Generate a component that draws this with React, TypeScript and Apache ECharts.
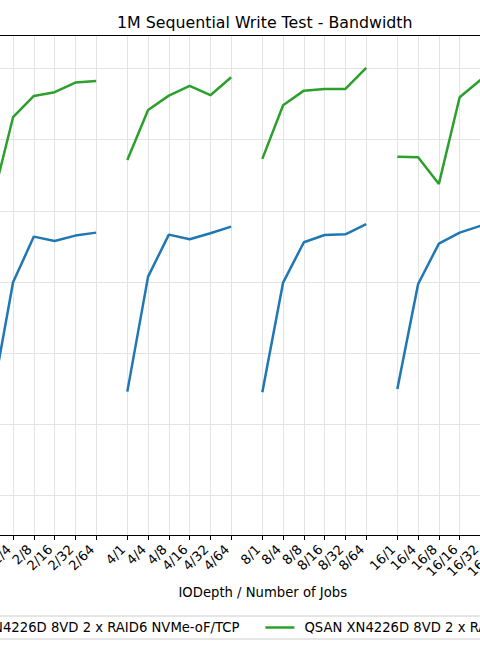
import React, { useEffect, useRef } from "react";
import * as echarts from "echarts";

const FONT = "DejaVu Sans";

const depths = ["2", "4", "8", "16"];
const jobs = ["1", "4", "8", "16", "32", "64"];

// Bandwidth (MB/s), depth-major order: 2/1..2/64, 4/1..4/64, 8/1..8/64, 16/1..16/64
const tcpBandwidth = [
  5386, 6997, 7638, 7577, 7652, 7694,
  5461, 7076, 7666, 7601, 7685, 7778,
  5452, 6992, 7559, 7661, 7671, 7812,
  5499, 6973, 7539, 7694, 7788, 7844,
];
const rdmaBandwidth = [
  8139, 9315, 9614, 9666, 9801, 9824,
  8715, 9417, 9618, 9754, 9624, 9876,
  8729, 9483, 9688, 9712, 9712, 10007,
  8761, 8753, 8378, 9596, 9838, 9909,
];

const seriesNames = [
  "QSAN XN4226D 8VD 2 x RAID6 NVMe-oF/TCP",
  "QSAN XN4226D 8VD 2 x RAID6 NVMe-oF/RDMA",
];
const seriesColors = ["#1f77b4", "#2ca02c"];
const TITLE = "1M Sequential Write Test - Bandwidth";
const X_NAME = "IODepth / Number of Jobs";

// Build category slots: one blank slot between jobs, two blanks between depth groups
const categories: string[] = [];
const slotIndex: number[] = [];
depths.forEach((d, g) => {
  jobs.forEach((j, i) => {
    if (i > 0) categories.push("");
    slotIndex.push(categories.length);
    categories.push(`${d}/${j}`);
  });
  if (g < depths.length - 1) {
    categories.push("");
    categories.push("");
  }
});

function buildData(values: number[]) {
  const out: any[] = [];
  depths.forEach((_, g) => {
    jobs.forEach((__, i) => {
      const k = g * jobs.length + i;
      out.push([slotIndex[k], values[k]]);
    });
    if (g < depths.length - 1) {
      const last = slotIndex[g * jobs.length + jobs.length - 1];
      out.push([last + 1, "-"]);
    }
  });
  return out;
}

const isTick = (_i: number, v: string) => v !== "";

// The visible 480x650 view is a window onto a wider figure.
const OFF = 200;
const VW = 900;

export default function App() {
  const ref = useRef<HTMLDivElement>(null);
  useEffect(() => {
    if (!ref.current) return;
    const chart = echarts.init(ref.current, undefined, { renderer: "svg" });
    const option: any = {
      animation: false,
      backgroundColor: "#ffffff",
      textStyle: { fontFamily: FONT },
      title: {
        text: TITLE,
        left: 112 + OFF,
        top: 9,
        textStyle: { fontSize: 15.8, fontWeight: "normal", color: "#000", fontFamily: FONT },
      },
      grid: {
        left: OFF - 7.7,
        right: VW - OFF - 501.2,
        top: 35,
        bottom: 115,
        outerBoundsMode: "none",
        containLabel: false,
      },
      legend: {
        data: seriesNames,
        left: OFF - 105,
        top: 616,
        orient: "horizontal",
        icon: "rect",
        itemWidth: 29,
        itemHeight: 2.5,
        itemGap: 26,
        padding: [5, 8, 5, 8],
        borderColor: "#cccccc",
        borderWidth: 1,
        borderRadius: 3,
        textStyle: { fontSize: 13.2, color: "#000", fontFamily: FONT, padding: [0, 0, 0, 5] },
      },
      xAxis: [
        {
          type: "category",
          data: categories,
          boundaryGap: false,
          position: "bottom",
          axisLine: { show: true, lineStyle: { color: "#000", width: 1 } },
          axisTick: { show: true, interval: isTick, length: 5, lineStyle: { color: "#000", width: 1 } },
          axisLabel: {
            interval: 0,
            rotate: 45,
            fontSize: 13.2,
            color: "#000",
            margin: 8,
            padding: [0, 6, 0, 0],
            fontFamily: FONT,
          },
          splitLine: { show: true, interval: isTick, lineStyle: { color: "#e3e3e3", width: 1 } },
          name: X_NAME,
          nameLocation: "middle",
          nameGap: 50,
          nameTextStyle: { fontSize: 13.2, color: "#000", fontFamily: FONT, padding: [0, 0, 0, 32] },
        },
        {
          type: "category",
          data: categories,
          boundaryGap: false,
          position: "top",
          axisLine: { show: true, lineStyle: { color: "#000", width: 1 } },
          axisTick: { show: false },
          axisLabel: { show: false },
          splitLine: { show: false },
        },
      ],
      yAxis: {
        type: "value",
        min: 3447,
        max: 10469.5,
        minInterval: 1000,
        maxInterval: 1000,
        axisLine: { show: false },
        axisTick: { show: false },
        axisLabel: { show: false },
        splitLine: { show: true, lineStyle: { color: "#e3e3e3", width: 1 } },
      },
      series: [
        {
          name: seriesNames[0],
          type: "line",
          data: buildData(tcpBandwidth),
          showSymbol: false,
          symbol: "none",
          connectNulls: false,
          lineStyle: { width: 2.5, color: seriesColors[0] },
          itemStyle: { color: seriesColors[0] },
        },
        {
          name: seriesNames[1],
          type: "line",
          data: buildData(rdmaBandwidth),
          showSymbol: false,
          symbol: "none",
          connectNulls: false,
          lineStyle: { width: 2.5, color: seriesColors[1] },
          itemStyle: { color: seriesColors[1] },
        },
      ],
    };
    chart.setOption(option);
    return () => chart.dispose();
  }, []);
  return (
    <div
      style={{
        position: "fixed",
        left: 0,
        top: 0,
        width: 480,
        height: 650,
        overflow: "hidden",
        background: "#fff",
      }}
    >
      <div
        ref={ref}
        style={{ position: "absolute", left: -OFF, top: 0, width: VW, height: 650 }}
      />
    </div>
  );
}
